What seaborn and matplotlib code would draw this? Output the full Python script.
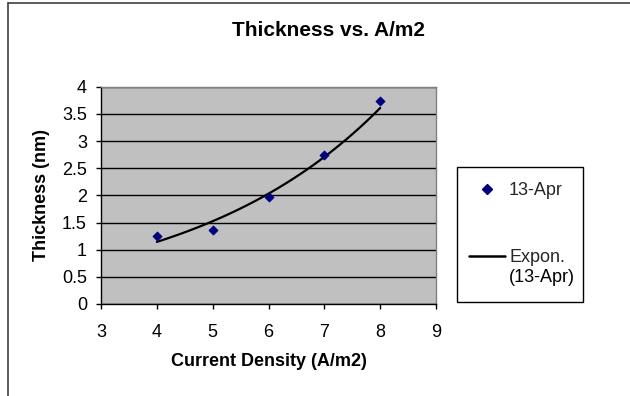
import numpy as np
import matplotlib
matplotlib.use("Agg")
import matplotlib.pyplot as plt
import seaborn as sns
from matplotlib.lines import Line2D
from matplotlib.patches import Rectangle

# data
current_density = [4, 5, 6, 7, 8]
thickness = [1.26, 1.36, 1.97, 2.745, 3.73]
series_name = "13-Apr"
trend_name = ["Expon.", "(13-Apr)"]
title = "Thickness vs. A/m2"
xlabel = "Current Density (A/m2)"
ylabel = "Thickness (nm)"
x_ticks = [3, 4, 5, 6, 7, 8, 9]
y_ticks = [0, 0.5, 1, 1.5, 2, 2.5, 3, 3.5, 4]

sns.set_theme(style="white")
plt.rcParams['font.family'] = ['Liberation Sans', 'DejaVu Sans']

W, H = 630, 396
fig = plt.figure(figsize=(W / 100, H / 100), dpi=100)
fig.patch.set_facecolor("white")

def fx(px):
    return px / W

def fy(py):
    return 1 - py / H

FS = 13

ax = fig.add_axes([fx(101), fy(304), fx(436) - fx(101), fy(86.7) - fy(304)])
ax.set_facecolor("#C0C0C0")

# exponential trend (least squares on log, as Excel does)
b, a = np.polyfit(current_density, np.log(thickness), 1)
xt = np.linspace(current_density[0], current_density[-1], 100)
yt = np.exp(a) * np.exp(b * xt)

sns.lineplot(x=xt, y=yt, ax=ax, color="black", linewidth=1.6, zorder=3)
sns.scatterplot(x=current_density, y=thickness, ax=ax, marker="D", s=22,
                color="#000080", edgecolor="#000080", linewidth=0.5, zorder=4)

ax.set_xlim(3, 9)
ax.set_ylim(0, 4)
ax.set_xticks(x_ticks)
ax.set_yticks(y_ticks)
ax.set_xticklabels([str(v) for v in x_ticks])
ax.set_yticklabels([f"{v:g}" for v in y_ticks])
ax.yaxis.grid(True, color="black", linewidth=1)
ax.set_axisbelow(True)
ax.tick_params(axis="both", labelsize=FS, colors="black", length=3.6, width=1,
               direction="out")
ax.tick_params(axis="y", pad=6.5)
ax.tick_params(axis="x", pad=11)
ax.tick_params(left=True, bottom=True)
for s in ["top", "right"]:
    ax.spines[s].set_color("#808080")
    ax.spines[s].set_linewidth(1)
for s in ["left", "bottom"]:
    ax.spines[s].set_color("black")
    ax.spines[s].set_linewidth(1)

ax.set_xlabel("")
ax.set_ylabel("")
fig.text(fx(269), fy(362), xlabel, ha="center", va="center", fontsize=FS,
         fontweight="bold", color="black")
fig.text(fx(42), fy(195), ylabel, ha="center", va="center", fontsize=FS,
         fontweight="bold", rotation=90, color="black")
fig.text(fx(328), fy(31), title, ha="center", va="center", fontsize=15,
         fontweight="bold", color="black")

# legend box
fig.add_artist(Rectangle((fx(457), fy(301.7)), fx(583) - fx(457), fy(166.7) - fy(301.7),
                         transform=fig.transFigure, facecolor="white",
                         edgecolor="black", linewidth=1))
handles = [Line2D([], [], marker="D", linestyle="none", color="#000080",
                  markersize=4.6),
           Line2D([], [], color="black", linewidth=1.8)]
leg = fig.legend(handles, [series_name, trend_name[0]], loc="upper left",
                 bbox_to_anchor=(fx(469), fy(182)), frameon=False,
                 fontsize=FS, handlelength=2.0, handletextpad=0.22,
                 labelspacing=2.77, borderpad=0, borderaxespad=0)
fig.text(fx(509), fy(277), trend_name[1], ha="left", va="center", fontsize=FS,
         color="black")

# outer chart border
fig.add_artist(Line2D([fx(8), 1], [fy(3), fy(3)], transform=fig.transFigure,
                      color="#404040", linewidth=1.2))
fig.add_artist(Line2D([fx(8), fx(8)], [fy(3), 0], transform=fig.transFigure,
                      color="#404040", linewidth=1.2))

fig.savefig("out.png", dpi=100)
